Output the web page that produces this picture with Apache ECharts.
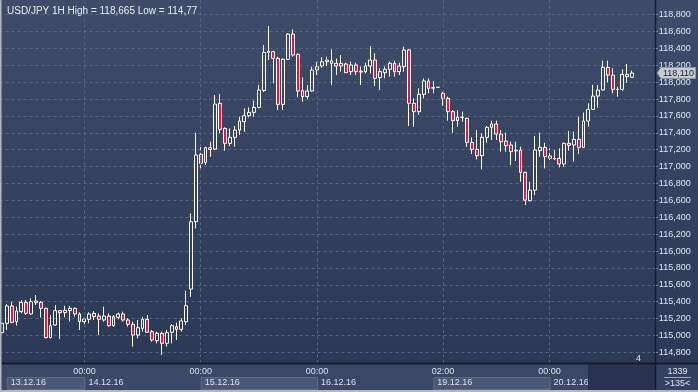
<!DOCTYPE html>
<html><head><meta charset="utf-8">
<script src="https://cdn.jsdelivr.net/npm/echarts@6/dist/echarts.min.js"></script>
<style>html,body{margin:0;padding:0;background:#2c3a58;}#c{width:698px;height:392px;}</style>
</head><body><div id="c"></div>
<script>
const titleText = 'USD/JPY 1H High = 118,665 Low = 114,77';
const slotCount = 135;
const opens = [115.033,115.144,115.349,115.163,115.282,115.392,115.254,115.388,115.392,115.321,
114.974,115.124,115.294,115.270,115.294,115.321,115.254,115.163,115.191,115.262,
115.230,115.183,115.230,115.116,115.215,115.254,115.183,115.132,115.005,115.084,
115.191,115.045,114.938,115.025,114.907,115.037,115.104,115.072,115.162,115.549,
116.347,117.145,117.050,117.224,117.208,117.750,117.453,117.276,117.347,117.433,
117.532,117.603,117.643,117.702,117.900,118.354,118.362,118.283,117.738,118.271,
118.571,118.330,117.900,117.829,117.896,118.145,118.192,118.243,118.255,118.223,
118.193,118.216,118.125,118.204,118.120,118.125,118.192,118.263,118.054,118.113,
118.153,118.224,118.125,118.185,118.382,117.750,117.651,117.857,118.015,117.930,
117.940,117.868,117.809,117.651,117.544,117.584,117.572,117.287,117.204,117.129,
117.347,117.465,117.505,117.386,117.303,117.256,117.187,117.197,116.932,116.596,
116.722,117.189,117.228,117.126,117.092,117.098,117.031,117.276,117.256,117.323,
117.228,117.540,117.678,117.836,117.908,118.176,118.085,117.915,117.915,118.093,
118.058];
const closes = [115.144,115.349,115.155,115.290,115.392,115.262,115.400,115.408,115.321,114.974,
115.116,115.294,115.270,115.298,115.321,115.254,115.163,115.195,115.254,115.222,
115.191,115.230,115.116,115.222,115.254,115.183,115.132,115.005,115.092,115.191,
115.037,114.946,115.025,114.907,115.033,115.116,115.072,115.171,115.352,116.347,
117.137,117.039,117.224,117.204,117.742,117.441,117.276,117.347,117.433,117.540,
117.603,117.643,117.702,117.907,118.354,118.366,118.283,117.738,118.271,118.571,
118.322,117.896,117.829,117.896,118.145,118.184,118.243,118.263,118.223,118.192,
118.224,118.113,118.204,118.125,118.130,118.192,118.263,118.046,118.125,118.153,
118.224,118.125,118.192,118.382,117.750,117.651,117.857,118.015,117.928,117.935,
117.940,117.809,117.651,117.544,117.584,117.586,117.287,117.204,117.129,117.347,
117.465,117.505,117.386,117.295,117.248,117.177,117.190,116.932,116.604,116.722,
117.197,117.228,117.118,117.098,117.096,117.031,117.276,117.252,117.323,117.228,
117.540,117.678,117.836,117.907,118.176,118.085,117.915,117.915,118.093,118.066,
118.110];
const lows = [115.025,115.065,115.144,115.116,115.262,115.242,115.242,115.361,115.211,114.966,
114.966,115.112,114.958,115.215,115.163,115.222,115.065,115.104,115.144,115.183,
115.005,115.163,115.104,115.104,115.191,115.163,115.104,114.867,114.966,115.045,
115.033,114.926,114.907,114.770,114.867,114.907,114.946,115.045,115.123,115.458,
116.268,116.967,117.019,117.117,117.196,117.394,117.189,117.244,117.236,117.374,
117.414,117.584,117.592,117.690,117.888,118.263,117.987,117.670,117.670,118.263,
118.302,117.821,117.769,117.797,117.888,118.085,118.172,118.192,117.967,118.085,
118.125,118.113,118.086,118.086,117.967,118.105,118.105,117.955,117.908,118.046,
118.066,118.066,118.086,118.125,117.481,117.473,117.612,117.809,117.869,117.869,
117.940,117.720,117.544,117.402,117.473,117.532,117.236,117.149,117.086,116.967,
117.283,117.315,117.315,117.177,117.177,117.019,117.066,116.821,116.545,116.590,
116.663,117.118,116.979,117.078,117.078,116.991,116.999,117.189,117.058,117.149,
117.228,117.473,117.671,117.698,117.900,117.998,117.868,117.829,117.900,117.994,
118.058];
const highs = [115.151,115.373,115.400,115.341,115.420,115.420,115.440,115.479,115.408,115.329,
115.242,115.361,115.302,115.353,115.349,115.333,115.274,115.211,115.274,115.290,
115.262,115.341,115.262,115.242,115.270,115.282,115.203,115.163,115.183,115.222,
115.242,115.065,115.045,115.045,115.065,115.136,115.151,115.203,115.530,116.446,
117.402,117.264,117.236,117.295,117.848,117.860,117.465,117.453,117.481,117.592,
117.690,117.702,117.781,117.967,118.441,118.665,118.374,118.302,118.283,118.579,
118.626,118.342,118.058,117.967,118.184,118.243,118.295,118.302,118.389,118.280,
118.323,118.232,118.244,118.232,118.184,118.232,118.429,118.343,118.165,118.185,
118.244,118.256,118.232,118.421,118.390,117.809,117.928,118.046,118.046,118.015,
117.940,117.888,117.829,117.670,117.670,117.651,117.580,117.347,117.433,117.394,
117.481,117.544,117.544,117.433,117.402,117.295,117.295,117.236,116.940,116.821,
117.362,117.402,117.283,117.216,117.197,117.216,117.283,117.422,117.414,117.592,
117.640,117.749,117.970,117.967,118.255,118.255,118.164,117.947,118.152,118.216,
118.137];
const timeTickIdx = [17, 41, 65, 91, 113];
const timeTickText = ['00:00', '00:00', '00:00', '02:00', '00:00'];
const dateIdx = [1, 17, 41, 65, 89, 113];
const dateText = ['13.12.16', '14.12.16', '15.12.16', '16.12.16', '19.12.16', '20.12.16'];
const yMin = 114.6, yMax = 119.0, yStep = 0.2;
const lastPrice = 118.110;
const lastPriceText = '118,110';
const barsInfo = ['1339', '>135<'];
const noteText = '4';

const FONT = '"Liberation Sans", Arial, sans-serif';
const categories = Array.from({length: slotCount}, (_, i) => String(i));
const ohlc = opens.map((o, i) => [o, closes[i], lows[i], highs[i]]);
const fmt = v => v.toFixed(3).replace('.', ',');

const chart = echarts.init(document.getElementById('c'), null, {renderer: 'canvas'});
chart.setOption({
  animation: false,
  backgroundColor: 'transparent',
  title: {text: titleText, left: 2, top: 1, textStyle: {color: '#e8edf5', fontSize: 10, fontWeight: 'normal', fontFamily: FONT}},
  grid: {left: -0.42, right: 44.2, top: -2.18, bottom: 22.8, containLabel: false, outerBoundsMode: 'none'},
  xAxis: [
    {type: 'category', data: categories, boundaryGap: true, z: 52,
     axisLine: {show: false}, axisTick: {show: false}, splitLine: {show: false},
     axisLabel: {interval: (i) => timeTickIdx.includes(i), formatter: (v, i) => {const k = timeTickIdx.indexOf(Number(v)); return k >= 0 ? timeTickText[k] : '';},
       color: '#d8e0ee', fontSize: 9, fontFamily: FONT, margin: 2, verticalAlign: 'middle'}},
    {type: 'category', data: categories, boundaryGap: true, position: 'bottom', offset: 11, z: 52,
     axisLine: {show: false}, axisTick: {show: false}, splitLine: {show: false},
     axisLabel: {interval: (i) => dateIdx.includes(i), formatter: (v) => {const k = dateIdx.indexOf(Number(v)); return k >= 0 ? dateText[k] : '';},
       color: '#d8e0ee', fontSize: 9, fontFamily: FONT, margin: 2, verticalAlign: 'middle', align: 'left', padding: [0, 0, 0, 4]}}
  ],
  yAxis: {type: 'value', position: 'right', min: yMin, max: yMax, interval: yStep, scale: true,
    axisLine: {show: false},
    axisTick: {show: true, length: 4, lineStyle: {color: '#7b9fe0'}},
    splitLine: {show: true, showMinLine: false, showMaxLine: false, lineStyle: {color: '#56647f', type: [3, 3], width: 1}},
    axisLabel: {showMinLabel: false, showMaxLabel: false, formatter: fmt, color: '#dfe6f2', fontSize: 9, fontFamily: FONT, margin: 5}
  },
  series: [{
    type: 'candlestick', xAxisIndex: 0, data: ohlc, barWidth: 3.4,
    itemStyle: {color: 'rgba(0,0,0,0)', color0: '#e5173b', borderColor: '#ffffff', borderColor0: '#ffffff', borderColorDoji: '#ffffff', borderWidth: 1},
    markLine: {silent: true, symbol: ['none', 'none'], label: {show: false}, animation: false,
      lineStyle: {color: '#56647f', type: [3, 3], width: 1},
      data: timeTickIdx.map(i => ({xAxis: i}))}
  }]
});

const px = i => chart.convertToPixel({xAxisIndex: 0}, i);
const graphics = [];
graphics.push({type: 'rect', z: -10, shape: {x: 0, y: 0, width: 698, height: 365},
  style: {fill: new echarts.graphic.LinearGradient(0, 0, 0, 1, [{offset: 0, color: '#3e4c69'}, {offset: 1, color: '#2b3957'}])}});
graphics.push({type: 'rect', z: 50, shape: {x: 0, y: 364, width: 698, height: 28}, style: {fill: '#3a4866'}});
for (let k = 0; k < dateIdx.length; k += 2) {
  const x0 = px(dateIdx[k]);
  const x1 = k + 1 < dateIdx.length ? px(dateIdx[k + 1]) : x0 + 40;
  graphics.push({type: 'rect', z: 51, shape: {x: x0 + 0.5, y: 377.5, width: x1 - x0, height: 12}, style: {fill: '#4a5874', stroke: '#5d6a85', lineWidth: 1}});
}
graphics.push({type: 'rect', z: 53, shape: {x: 588, y: 364, width: 67.5, height: 28}, style: {fill: '#28344f'}});
graphics.push({type: 'rect', z: 54, shape: {x: 655, y: 364, width: 43, height: 28}, style: {fill: '#34415e'}});
graphics.push({type: 'text', z: 56, style: {text: barsInfo[0], x: 677.5, y: 371.5, align: 'center', verticalAlign: 'middle', fill: '#dfe6f2', fontSize: 9, fontFamily: FONT}});
graphics.push({type: 'text', z: 56, style: {text: barsInfo[1], x: 677.5, y: 383.5, align: 'center', verticalAlign: 'middle', fill: '#dfe6f2', fontSize: 9, fontFamily: FONT}});
graphics.push({type: 'line', z: 56, shape: {x1: 664, y1: 377.5, x2: 691, y2: 377.5}, style: {stroke: '#9aa9c2', lineWidth: 1}});
graphics.push({type: 'line', z: 55, shape: {x1: 655.5, y1: 0, x2: 655.5, y2: 392}, style: {stroke: '#161c2b', lineWidth: 1.5}});
graphics.push({type: 'line', z: 55, shape: {x1: 0, y1: 363.5, x2: 698, y2: 363.5}, style: {stroke: '#161c2b', lineWidth: 2}});
graphics.push({type: 'rect', z: 57, shape: {x: 0, y: 0, width: 1.5, height: 392}, style: {fill: '#b3b8c2'}});
graphics.push({type: 'rect', z: 57, shape: {x: 0, y: 390, width: 698, height: 2}, style: {fill: '#b3b8c2'}});
graphics.push({type: 'polygon', z: 40, shape: {points: [[628, 360], [630.5, 355.5], [633, 360]]}, style: {fill: '#27324c'}});
graphics.push({type: 'text', z: 40, style: {text: noteText, x: 638.5, y: 359, align: 'center', verticalAlign: 'middle', fill: '#dfe6f2', fontSize: 9, fontFamily: FONT}});
const yp = chart.convertToPixel({yAxisIndex: 0}, lastPrice);
graphics.push({type: 'polygon', z: 60, shape: {points: [[657, yp], [661, yp - 5.5], [695.5, yp - 5.5], [695.5, yp + 5.5], [661, yp + 5.5]]}, style: {fill: '#c7cbd3', stroke: '#8f96a3', lineWidth: 1}});
graphics.push({type: 'text', z: 61, style: {text: lastPriceText, x: 678.5, y: yp + 0.5, align: 'center', verticalAlign: 'middle', fill: '#1d2230', fontSize: 9, fontFamily: FONT}});
chart.setOption({graphic: graphics});
</script></body></html>
